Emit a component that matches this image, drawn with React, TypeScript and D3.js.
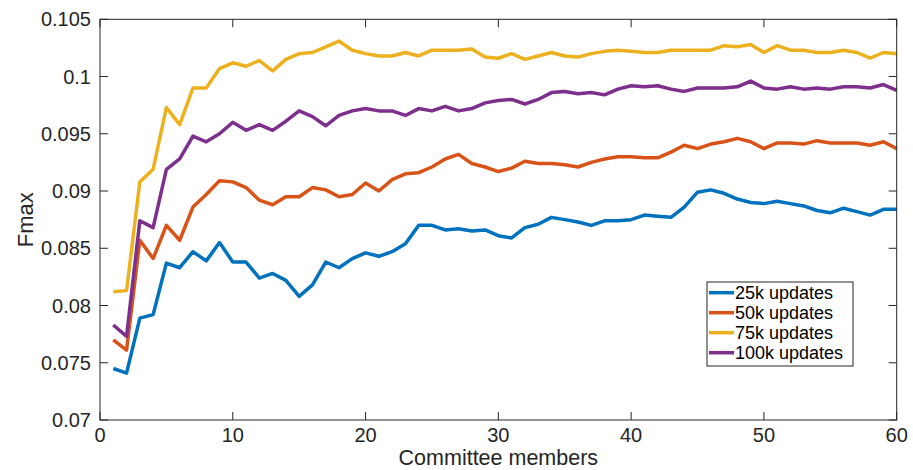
import React from "react";
import * as d3 from "d3";

const members = d3.range(1, 61);
const xTicks = [0, 10, 20, 30, 40, 50, 60];
const yTicks = [0.07, 0.075, 0.08, 0.085, 0.09, 0.095, 0.1, 0.105];
const yTickLabels = ["0.07", "0.075", "0.08", "0.085", "0.09", "0.095", "0.1", "0.105"];

const updates25k = [0.0745,0.0741,0.0789,0.0792,0.0837,0.0833,0.0847,0.0839,0.0855,0.0838,0.0838,0.0824,0.0828,0.0822,0.0808,0.0818,0.0838,0.0833,0.0841,0.0846,
  0.0843,0.0847,0.0854,0.0870,0.0870,0.0866,0.0867,0.0865,0.0866,0.0861,0.0859,0.0868,0.0871,0.0877,0.0875,0.0873,0.0870,0.0874,0.0874,0.0875,
  0.0879,0.0878,0.0877,0.0886,0.0899,0.0901,0.0898,0.0893,0.0890,0.0889,0.0891,0.0889,0.0887,0.0883,0.0881,0.0885,0.0882,0.0879,0.0884,0.0884];
const updates50k = [0.0770,0.0761,0.0857,0.0841,0.0870,0.0857,0.0886,0.0897,0.0909,0.0908,0.0903,0.0892,0.0888,0.0895,0.0895,0.0903,0.0901,0.0895,0.0897,0.0907,
  0.0900,0.0910,0.0915,0.0916,0.0921,0.0928,0.0932,0.0924,0.0921,0.0917,0.0920,0.0926,0.0924,0.0924,0.0923,0.0921,0.0925,0.0928,0.0930,0.0930,
  0.0929,0.0929,0.0934,0.0940,0.0937,0.0941,0.0943,0.0946,0.0943,0.0937,0.0942,0.0942,0.0941,0.0944,0.0942,0.0942,0.0942,0.0940,0.0943,0.0937];
const updates75k = [0.0812,0.0813,0.0908,0.0919,0.0973,0.0958,0.0990,0.0990,0.1007,0.1012,0.1009,0.1014,0.1005,0.1015,0.1020,0.1021,0.1026,0.1031,0.1023,0.1020,
  0.1018,0.1018,0.1021,0.1018,0.1023,0.1023,0.1023,0.1024,0.1017,0.1016,0.1020,0.1015,0.1018,0.1021,0.1018,0.1017,0.1020,0.1022,0.1023,0.1022,
  0.1021,0.1021,0.1023,0.1023,0.1023,0.1023,0.1027,0.1026,0.1028,0.1021,0.1027,0.1023,0.1023,0.1021,0.1021,0.1023,0.1021,0.1016,0.1021,0.1020];
const updates100k = [0.0783,0.0773,0.0874,0.0868,0.0919,0.0928,0.0948,0.0943,0.0950,0.0960,0.0953,0.0958,0.0953,0.0961,0.0970,0.0965,0.0957,0.0966,0.0970,0.0972,
  0.0970,0.0970,0.0966,0.0972,0.0970,0.0974,0.0970,0.0972,0.0977,0.0979,0.0980,0.0976,0.0980,0.0986,0.0987,0.0985,0.0986,0.0984,0.0989,0.0992,
  0.0991,0.0992,0.0989,0.0987,0.0990,0.0990,0.0990,0.0991,0.0996,0.0990,0.0989,0.0991,0.0989,0.0990,0.0989,0.0991,0.0991,0.0990,0.0993,0.0988];

const seriesNames = ["25k updates", "50k updates", "75k updates", "100k updates"];
const seriesValues = [updates25k, updates50k, updates75k, updates100k];
const colors = ["#0072BD", "#D95319", "#EDB120", "#7E2F8E"];

const W = 913, H = 470;
const L = 100, R = 896.7, T = 19.3, B = 420;
const axisColor = "#262626";
const font = "'Liberation Sans', Arial, Helvetica, sans-serif";

export default function App() {
  const x = d3.scaleLinear().domain([0, 60]).range([L, R]);
  const y = d3.scaleLinear().domain([0.07, 0.105]).range([B, T]);
  const line = d3.line<number>().x((_, i) => x(members[i])).y((d) => y(d));
  const tick = 8;
  const legX = 707, legY = 282, legW = 146, legH = 84;

  return (
    <svg width={W} height={H} style={{ position: "absolute", left: 0, top: 0, background: "#fff" }} fontFamily={font}>
      <rect x={0} y={0} width={W} height={H} fill="#fff" />
      {seriesValues.map((vals, i) => (
        <path key={i} d={line(vals) || ""} fill="none" stroke={colors[i]} strokeWidth={3.5} strokeLinejoin="round" />
      ))}
      <rect x={L} y={T} width={R - L} height={B - T} fill="none" stroke={axisColor} strokeWidth={1} />
      {xTicks.map((t) => (
        <g key={"x" + t}>
          <line x1={x(t)} x2={x(t)} y1={B} y2={B - tick} stroke={axisColor} />
          <line x1={x(t)} x2={x(t)} y1={T} y2={T + tick} stroke={axisColor} />
          <text x={x(t)} y={442} textAnchor="middle" fontSize={20} fill={axisColor}>{t}</text>
        </g>
      ))}
      {yTicks.map((t, i) => (
        <g key={"y" + i}>
          <line x1={L} x2={L + tick} y1={y(t)} y2={y(t)} stroke={axisColor} />
          <line x1={R} x2={R - tick} y1={y(t)} y2={y(t)} stroke={axisColor} />
          <text x={91} y={y(t) + 7} textAnchor="end" fontSize={20} fill={axisColor}>{yTickLabels[i]}</text>
        </g>
      ))}
      <text x={(L + R) / 2} y={465} textAnchor="middle" fontSize={21.5} fill={axisColor}>Committee members</text>
      <text transform={`translate(32.5, ${(T + B) / 2}) rotate(-90)`} textAnchor="middle" fontSize={22} fill={axisColor}>Fmax</text>
      <rect x={legX} y={legY} width={legW} height={legH} fill="#fff" stroke={axisColor} strokeWidth={1} />
      {seriesNames.map((name, i) => {
        const cy = legY + 10.7 + i * 20;
        return (
          <g key={name}>
            <line x1={legX + 2} x2={legX + 27} y1={cy} y2={cy} stroke={colors[i]} strokeWidth={3.5} />
            <text x={legX + 28} y={cy + 6.5} fontSize={18} fill="#000">{name}</text>
          </g>
        );
      })}
    </svg>
  );
}
